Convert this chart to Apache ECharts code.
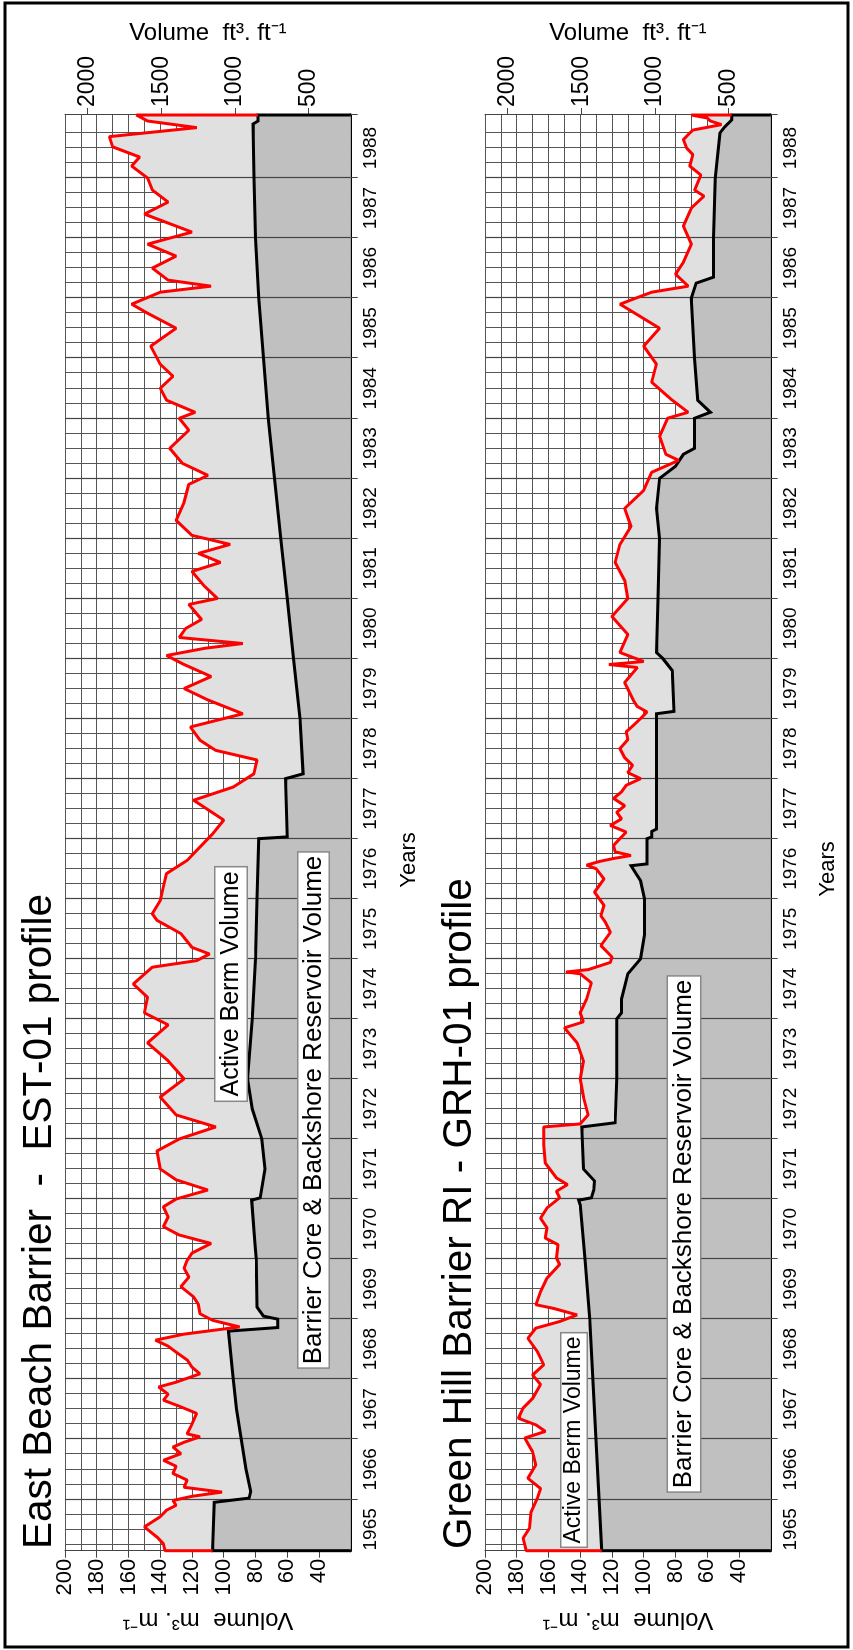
<!DOCTYPE html>
<html><head><meta charset="utf-8">
<script src="https://cdn.jsdelivr.net/npm/echarts@6/dist/echarts.min.js"></script>
<style>
html,body{margin:0;padding:0;width:853px;height:1650px;overflow:hidden;background:#fff}
#chart{position:absolute;left:0;top:0;width:1650px;height:853px;transform-origin:0 0;transform:translate(0,1650px) rotate(-90deg);}
</style></head><body><div id="chart"></div><script>
// ---- DATA (decimal year, m3/m) ----
const yearLabels = [1965,1966,1967,1968,1969,1970,1971,1972,1973,1974,1975,1976,1977,1978,1979,1980,1981,1982,1983,1984,1985,1986,1987,1988];
const m3Ticks = [40,60,80,100,120,140,160,180,200];
const ftTicks = [500,1000,1500,2000];
const eastTitle = 'East Beach Barrier  -  EST-01 profile';
const greenTitle = 'Green Hill Barrier RI - GRH-01 profile';
const eastTotal = [[1965.144,137],[1965.26,138],[1965.37,142],[1965.54,150],[1965.71,140],[1965.82,136],[1965.9,130],[1965.98,132],[1966.05,120],[1966.12,101],[1966.2,125],[1966.32,123],[1966.43,132],[1966.55,130],[1966.65,138],[1966.76,127],[1966.87,132],[1966.95,125],[1967.04,115],[1967.09,123],[1967.25,120],[1967.43,117],[1967.55,128],[1967.65,138],[1967.75,135],[1967.87,141],[1967.95,130],[1968.09,115],[1968.2,120],[1968.32,123],[1968.45,130],[1968.55,135],[1968.65,143],[1968.75,125],[1968.87,90],[1968.98,107],[1969.09,115],[1969.25,116],[1969.37,119],[1969.54,127],[1969.7,122],[1969.85,125],[1969.98,123],[1970.1,120],[1970.26,108],[1970.4,128],[1970.54,138],[1970.7,135],[1970.87,138],[1971.0,130],[1971.15,110],[1971.32,130],[1971.5,140],[1971.8,142],[1972.0,128],[1972.2,105],[1972.4,130],[1972.7,140],[1973.0,125],[1973.3,135],[1973.6,148],[1973.9,135],[1974.1,150],[1974.36,148],[1974.58,157],[1974.86,145],[1974.97,117],[1975.08,109],[1975.19,120],[1975.42,127],[1975.64,142],[1975.75,145],[1975.97,140],[1976.2,138],[1976.42,136],[1976.64,123],[1976.86,115],[1977.08,107],[1977.31,100],[1977.64,119],[1977.86,94],[1978.08,81],[1978.31,79],[1978.47,105],[1978.64,115],[1978.86,121],[1979.08,88],[1979.31,110],[1979.5,125],[1979.7,108],[1979.9,125],[1980.05,136],[1980.17,112],[1980.25,88],[1980.35,128],[1980.5,124],[1980.65,114],[1980.9,122],[1981.0,104],[1981.2,112],[1981.45,120],[1981.6,102],[1981.75,116],[1981.9,96],[1982.05,120],[1982.3,130],[1982.6,125],[1982.9,122],[1983.05,110],[1983.25,126],[1983.5,134],[1983.8,122],[1984.0,128],[1984.1,118],[1984.3,136],[1984.5,140],[1984.7,132],[1984.9,140],[1985.2,146],[1985.5,130],[1985.75,148],[1985.9,158],[1986.1,140],[1986.2,108],[1986.3,135],[1986.5,145],[1986.7,130],[1986.9,148],[1987.1,120],[1987.4,150],[1987.6,135],[1987.8,145],[1988.0,148],[1988.2,158],[1988.35,153],[1988.52,170],[1988.69,172],[1988.84,117],[1988.95,148],[1989.05,155]];
const eastCore = [[1965.144,107],[1965.95,106],[1966.02,84],[1966.13,83],[1966.5,86],[1967.0,89],[1967.5,92],[1968.0,94],[1968.8,97],[1968.86,66],[1969.0,66],[1969.05,75],[1969.2,79],[1970.0,79.5],[1970.3,80.5],[1970.98,82.4],[1971.02,77],[1971.5,74],[1972.0,76],[1972.5,82],[1973.0,85],[1974.0,82],[1975.0,80],[1976.0,79],[1977.0,78],[1977.03,60],[1978.0,61],[1978.08,50],[1979.0,52],[1980.0,56],[1981.0,60],[1982.0,64],[1983.0,68],[1984.0,72],[1985.0,75],[1986.0,78],[1987.0,80],[1988.0,81],[1988.9,81.5],[1988.95,78.4],[1989.05,78.4]];
const greenTotal = [[1965.144,174],[1965.35,176],[1965.52,172],[1965.79,171],[1966.02,167],[1966.18,165],[1966.35,173],[1966.57,168],[1966.79,170],[1967.02,175],[1967.13,162],[1967.24,168],[1967.35,179],[1967.52,176],[1967.68,170],[1967.91,165],[1968.07,170],[1968.24,163],[1968.46,167],[1968.68,173],[1968.85,168],[1968.96,153],[1969.07,142],[1969.18,157],[1969.24,168],[1969.46,165],[1969.68,161],[1969.91,153],[1970.02,155],[1970.24,154],[1970.35,162],[1970.52,161],[1970.68,165],[1970.85,161],[1971.02,153],[1971.13,155],[1971.24,148],[1971.35,155],[1971.6,162],[1971.9,163],[1972.2,163],[1972.25,140],[1972.4,135],[1972.7,138],[1973.0,140],[1973.3,138],[1973.6,142],[1973.85,150],[1973.95,138],[1974.1,140],[1974.33,136],[1974.6,133],[1974.75,140],[1974.78,149],[1974.82,135],[1974.94,121],[1975.03,120],[1975.22,127],[1975.44,121],[1975.6,124],[1975.72,127],[1975.89,125],[1976.11,131],[1976.33,125],[1976.5,130],[1976.56,136],[1976.62,128],[1976.67,119],[1976.72,108],[1976.78,118],[1976.89,119],[1977.0,115],[1977.11,111],[1977.22,121],[1977.33,114],[1977.44,117],[1977.55,112],[1977.67,119],[1977.78,114],[1977.89,111],[1978.0,102],[1978.1,110],[1978.22,107],[1978.35,112],[1978.5,115],[1978.65,110],[1978.78,111],[1978.9,106],[1979.0,102],[1979.11,98],[1979.2,104],[1979.28,106],[1979.6,112],[1979.85,104],[1979.9,122],[1979.95,100],[1980.1,115],[1980.4,110],[1980.7,120],[1981.0,110],[1981.3,112],[1981.6,118],[1981.9,115],[1982.2,108],[1982.5,112],[1982.8,100],[1983.1,95],[1983.3,78],[1983.4,86],[1983.7,90],[1984.0,85],[1984.1,72],[1984.3,82],[1984.6,95],[1984.9,92],[1985.2,100],[1985.5,90],[1985.9,115],[1986.0,105],[1986.1,95],[1986.2,72],[1986.4,80],[1986.6,75],[1986.9,70],[1987.2,75],[1987.5,70],[1987.7,62],[1987.8,68],[1988.05,64],[1988.2,71],[1988.39,69],[1988.5,73],[1988.64,75],[1988.75,71],[1988.8,69],[1988.89,51],[1988.95,58],[1989.0,60],[1989.05,70]];
const greenCore = [[1965.144,126.5],[1969.0,134],[1970.0,137],[1970.9,140],[1970.98,141],[1971.02,133],[1971.15,131.5],[1971.3,131],[1971.5,138],[1972.2,139],[1972.27,118],[1973.0,117],[1974.0,117],[1974.1,114],[1974.33,114],[1974.75,110],[1975.0,102],[1975.4,99.5],[1976.0,99.5],[1976.3,102],[1976.55,108],[1976.58,98],[1977.0,98],[1977.03,95],[1977.12,95],[1977.16,92],[1979.08,92],[1979.12,81],[1979.8,82],[1980.0,88],[1980.1,92],[1981.0,91],[1982.0,90],[1982.5,92],[1983.0,90],[1983.2,80],[1983.4,75],[1983.5,68],[1984.0,68],[1984.1,58],[1984.3,66],[1985.0,68],[1986.0,70],[1986.25,67],[1986.35,56],[1987.0,56],[1988.0,55],[1988.75,52],[1988.85,49],[1988.97,44.5],[1989.05,44.5]];

// ---- layout ----
const FT = 10.7639;
const T0 = 1965.144, T1 = 1989.05, VMIN = 20, VMAX = 200;
const FONT = '"Liberation Sans", Arial, Helvetica, sans-serif';
const GL = 99.3, GW = 1435.7, GH = 285.7;
const panelTops = [65, 485];
const majorYears = yearLabels.slice(1);
const minorYears = [];
for (let y = 1965.25; y < T1; y += 0.25) { if (y > T0 && Math.abs(y - Math.round(y)) > 1e-6) minorYears.push(y); }

const grids = [], xAxes = [], yAxes = [], series = [], graphics = [];
const panels = [
  {total: eastTotal, core: eastCore, title: eastTitle,
   berm: {x: 666, y: 231, fs: 25, pad: [3, 4, 3, 4]}, core_lbl: {x: 540, y: 313.5, fs: 26, pad: [2, 3, 2, 3]}, years: {x: 790, y: 409}},
  {total: greenTotal, core: greenCore, title: greenTitle,
   berm: {x: 210, y: 574, fs: 23, pad: [1, 3, 1, 3]}, core_lbl: {x: 416, y: 684, fs: 26, pad: [3, 3, 3, 3]}, years: {x: 781, y: 828}}
];
panels.forEach((p, i) => {
  const top = panelTops[i];
  grids.push({left: GL, top: top, width: GW, height: GH, show: false});
  xAxes.push({type: 'value', gridIndex: i, min: T0, max: T1, position: 'bottom',
    axisLine: {show: true, onZero: false, lineStyle: {color: '#000', width: 3}},
    axisTick: {show: true, customValues: majorYears.concat([T1]), length: 7, lineStyle: {color: '#444', width: 1}},
    axisLabel: {show: true, customValues: yearLabels.map(y => y + 0.5), formatter: v => String(Math.floor(v)), fontSize: 19, color: '#000', margin: 11, fontFamily: FONT},
    splitLine: {show: false}});
  yAxes.push({type: 'value', gridIndex: i, min: VMIN, max: VMAX, interval: 20, position: 'left',
    axisLine: {show: true, lineStyle: {color: '#444', width: 1}},
    axisTick: {show: true, customValues: m3Ticks, length: 7, lineStyle: {color: '#444'}},
    axisLabel: {show: true, customValues: m3Ticks, formatter: v => String(v), fontSize: 22, color: '#000', margin: 8, fontFamily: FONT},
    splitLine: {show: true, lineStyle: {color: '#555', width: 1}},
    minorTick: {show: false, splitNumber: 2},
    minorSplitLine: {show: true, lineStyle: {color: '#555', width: 1}}});
  yAxes.push({type: 'value', gridIndex: i, min: VMIN * FT, max: VMAX * FT, position: 'right',
    axisLine: {show: true, lineStyle: {color: '#444', width: 1}},
    axisTick: {show: true, customValues: ftTicks, length: 7, lineStyle: {color: '#444'}},
    axisLabel: {show: true, customValues: ftTicks, formatter: v => String(Math.round(v)), fontSize: 23, color: '#000', margin: 8, fontFamily: FONT},
    splitLine: {show: false}});
  const ya = 2 * i;
  const tot = p.total, core = p.core;
  const redPts = [[T0, core[0][1]]].concat(tot).concat([[T1, core[core.length - 1][1]]]);
  const corePts = [[T0, VMIN]].concat(core).concat([[T1, VMIN]]);
  // minor grid lines (years, under fills)
  series.push({type: 'line', xAxisIndex: i, yAxisIndex: ya, data: [[T0, VMIN]], showSymbol: false, z: 1, silent: true,
    lineStyle: {width: 0},
    markLine: {z: 1, silent: true, symbol: 'none', label: {show: false}, animation: false,
      lineStyle: {color: '#555', width: 1, type: 'solid'}, data: minorYears.map(y => ({xAxis: y}))}});
  series.push({type: 'line', name: 'berm-area', xAxisIndex: i, yAxisIndex: ya, data: redPts, showSymbol: false, z: 2,
    lineStyle: {width: 0}, areaStyle: {color: '#e0e0e0', opacity: 1}});
  series.push({type: 'line', name: 'core-area', xAxisIndex: i, yAxisIndex: ya, data: corePts, showSymbol: false, z: 3,
    lineStyle: {width: 0}, areaStyle: {color: '#c0c0c0', opacity: 1}});
  // major year lines, over the fills
  series.push({type: 'line', xAxisIndex: i, yAxisIndex: ya, data: [[T0, VMIN]], showSymbol: false, z: 4, silent: true,
    lineStyle: {width: 0},
    markLine: {z: 4, silent: true, symbol: 'none', label: {show: false}, animation: false,
      lineStyle: {color: '#444', width: 1.2, type: 'solid'}, data: majorYears.map(y => ({xAxis: y}))}});
  series.push({type: 'line', name: 'core-line', xAxisIndex: i, yAxisIndex: ya, data: corePts, showSymbol: false, z: 5,
    lineStyle: {color: '#000', width: 3, join: 'miter'}});
  series.push({type: 'line', name: 'berm-line', xAxisIndex: i, yAxisIndex: ya, data: redPts, showSymbol: false, z: 6,
    lineStyle: {color: '#ff0000', width: 3}});

  // texts
  graphics.push({type: 'text', x: 101, y: top - 25, style: {text: p.title, fontSize: 40.5, fontFamily: FONT, fill: '#000', align: 'left', verticalAlign: 'middle'}});
  graphics.push({type: 'text', x: 30, y: top + GH / 2, rotation: Math.PI / 2, style: {text: 'Volume  m³. m⁻¹', fontSize: 24, fontFamily: FONT, fill: '#000', align: 'center', verticalAlign: 'middle'}});
  graphics.push({type: 'text', x: 1617, y: top + GH / 2, rotation: -Math.PI / 2, style: {text: 'Volume  ft³. ft⁻¹', fontSize: 24, fontFamily: FONT, fill: '#000', align: 'center', verticalAlign: 'middle'}});
  graphics.push({type: 'text', x: p.years.x, y: p.years.y, style: {text: 'Years', fontSize: 22, fontFamily: FONT, fill: '#000', align: 'center', verticalAlign: 'middle'}});
  graphics.push({type: 'text', x: p.berm.x, y: p.berm.y, z: 20, style: {text: 'Active Berm Volume', fontSize: p.berm.fs, fontFamily: FONT, fill: '#000', align: 'center', verticalAlign: 'middle', backgroundColor: '#fff', borderColor: '#888', borderWidth: 1.5, padding: p.berm.pad}});
  graphics.push({type: 'text', x: p.core_lbl.x, y: p.core_lbl.y, z: 20, style: {text: 'Barrier Core & Backshore Reservoir Volume', fontSize: p.core_lbl.fs, fontFamily: FONT, fill: '#000', align: 'center', verticalAlign: 'middle', backgroundColor: '#fff', borderColor: '#888', borderWidth: 1.5, padding: p.core_lbl.pad}});
});
graphics.push({type: 'rect', shape: {x: 3, y: 5, width: 1644, height: 843}, style: {fill: 'none', stroke: '#000', lineWidth: 3}});

const chart = echarts.init(document.getElementById('chart'), null, {renderer: 'canvas'});
chart.setOption({animation: false, backgroundColor: '#fff', grid: grids, xAxis: xAxes, yAxis: yAxes, series: series, graphic: graphics});
</script></body></html>
